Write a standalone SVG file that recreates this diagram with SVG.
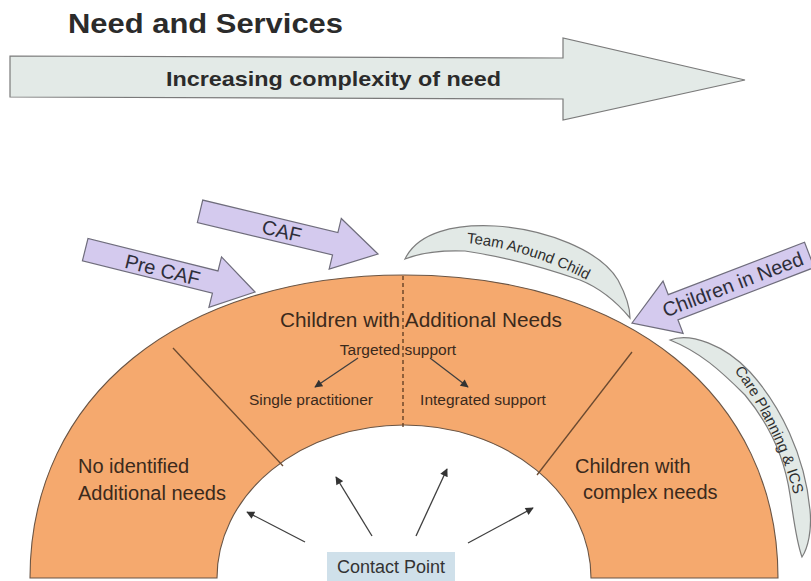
<svg xmlns="http://www.w3.org/2000/svg" width="811" height="581" viewBox="0 0 811 581">
  <defs>
    <style>
      text { font-family: "Liberation Sans", Arial, sans-serif; }
      .title { font-size: 28px; font-weight: bold; fill: #2b2b2b; }
      .bigarrow { fill: #e3eae7; stroke: #7a7a7a; stroke-width: 1.2; }
      .bigtext { font-size: 21px; font-weight: bold; fill: #2b2b2b; }
      .purple { fill: #d4caee; stroke: #6f6d7c; stroke-width: 1.2; }
      .ptext { font-size: 20px; fill: #2e2e3a; text-anchor: middle; }
      .crescent { fill: #e2e9e6; stroke: #7d7d7d; stroke-width: 1.2; }
      .ctext { font-size: 15px; fill: #2e2e2e; }
      .arch { fill: #f5a96e; stroke: #6a5545; stroke-width: 1.1; }
      .divider { stroke: #6b4a30; stroke-width: 1.3; fill: none; }
      .dashed { stroke: #5a3a20; stroke-width: 1.3; stroke-dasharray: 4 3; fill: none; }
      .otext { fill: #3b2a1c; }
      .big { font-size: 20px; }
      .small { font-size: 15.5px; }
      .conn { stroke: #3f3f3f; stroke-width: 1.3; fill: none; marker-end: url(#ah); }
      .cp { fill: #cfe0ea; }
      .cptext { font-size: 18px; fill: #333; text-anchor: middle; }
    </style>
    <marker id="ah" viewBox="0 0 10 10" refX="9" refY="5" markerWidth="10" markerHeight="8" markerUnits="userSpaceOnUse" orient="auto">
      <path d="M0,0 L10,5 L0,10 z" fill="#333"/>
    </marker>
    <path id="tacPath" d="M452,242 Q525,245 600,287"/>
    <path id="cpPath" d="M718,350 Q781,425 800,520"/>
  </defs>

  <g id="title">
    <text class="title" x="68" y="33" textLength="275" lengthAdjust="spacingAndGlyphs">Need and Services</text>
  </g>

  <g id="complexity-arrow">
    <polygon class="bigarrow" points="10,56 563,58 563,38 745,80 563,120 563,99 10,97"/>
    <text class="bigtext" x="166" y="86" textLength="335" lengthAdjust="spacingAndGlyphs">Increasing complexity of need</text>
  </g>

  <g id="arch">
    <path class="arch" d="M30,578 C30,396 180,275 404,275 C628,275 778,396 778,578 L591,578 A187,153 0 0 0 217,578 Z"/>
    <line class="divider" x1="173" y1="348" x2="283" y2="466"/>
    <line class="divider" x1="632" y1="352" x2="537" y2="475"/>
    <line class="dashed" x1="403" y1="276" x2="403" y2="428"/>
  </g>

  <g id="no-identified">
    <text class="otext big" x="78" y="473">No identified</text>
    <text class="otext big" x="78" y="500">Additional needs</text>
  </g>

  <g id="additional-needs">
    <text class="otext big" x="421" y="327" text-anchor="middle" textLength="282" lengthAdjust="spacingAndGlyphs">Children with Additional Needs</text>
    <text class="otext small" x="398" y="355" text-anchor="middle">Targeted support</text>
  </g>

  <g id="single-practitioner">
    <text class="otext small" x="311" y="405" text-anchor="middle">Single practitioner</text>
  </g>

  <g id="integrated-support">
    <text class="otext small" x="483" y="405" text-anchor="middle">Integrated support</text>
  </g>

  <g id="complex-needs">
    <text class="otext big" x="575" y="473">Children with</text>
    <text class="otext big" x="583" y="499">complex needs</text>
  </g>

  <g id="pre-caf">
    <g transform="translate(255,292) rotate(14)">
      <polygon class="purple" points="0,0 -41,-26 -41,-11.5 -175,-11.5 -175,11.5 -41,11.5 -41,26"/>
      <text class="ptext" x="-95" y="8">Pre CAF</text>
    </g>
  </g>

  <g id="caf">
    <g transform="translate(378,254) rotate(13.5)">
      <polygon class="purple" points="0,0 -44,-26 -44,-11.5 -183,-11.5 -183,11.5 -44,11.5 -44,26"/>
      <text class="ptext" x="-99" y="7">CAF</text>
    </g>
  </g>

  <g id="team-around-child">
    <path class="crescent" d="M405,259 C418,232 455,224 495,226 C545,229 600,250 618,280 C626,295 630,308 630,318 C615,300 600,288 580,280 C540,266 505,257 465,251 C440,250 420,253 405,259 Z"/>
    <text class="ctext"><textPath href="#tacPath" startOffset="50%" text-anchor="middle">Team Around Child</textPath></text>
  </g>

  <g id="children-in-need">
    <g transform="translate(632,323) rotate(-21)">
      <polygon class="purple" points="0,0 44,-28 44,-13.5 190,-13.5 190,13.5 44,13.5 44,28"/>
      <text class="ptext" x="108" y="7">Children in Need</text>
    </g>
  </g>

  <g id="care-planning">
    <path class="crescent" d="M670,340 C690,332 725,345 750,372 C780,405 805,455 810,510 C812,530 808,548 802,557 C796,540 794,520 790,495 C785,460 770,425 745,395 C720,370 700,352 670,340 Z"/>
    <text class="ctext"><textPath href="#cpPath" startOffset="50%" text-anchor="middle">Care Planning &amp; ICS</textPath></text>
  </g>

  <g id="contact-point">
    <rect class="cp" x="327" y="552" width="128" height="35"/>
    <text class="cptext" x="391" y="573">Contact Point</text>
  </g>

  <g id="connectors">
    <line class="conn" x1="358" y1="358" x2="315" y2="387"/>
    <line class="conn" x1="430" y1="358" x2="468" y2="387"/>
    <line class="conn" x1="305" y1="542" x2="247" y2="512"/>
    <line class="conn" x1="372" y1="536" x2="336" y2="477"/>
    <line class="conn" x1="416" y1="536" x2="447" y2="469"/>
    <line class="conn" x1="468" y1="543" x2="533" y2="508"/>
  </g>
</svg>
